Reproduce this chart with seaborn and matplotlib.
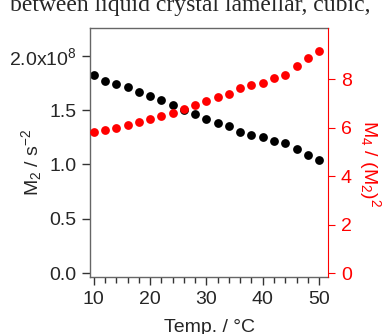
import numpy as np
import pandas as pd
import matplotlib
matplotlib.use("Agg")
import matplotlib.pyplot as plt
from matplotlib.ticker import MultipleLocator, FixedLocator
import seaborn as sns

temp = [10, 12, 14, 16, 18, 20, 22, 24, 26, 28, 30, 32, 34, 36, 38, 40, 42, 44, 46, 48, 50]
m2 = [1.82, 1.77, 1.74, 1.71, 1.67, 1.63, 1.59, 1.545, 1.50, 1.46, 1.42,
      1.38, 1.35, 1.30, 1.27, 1.25, 1.215, 1.195, 1.14, 1.09, 1.045]
ratio = [5.82, 5.92, 5.99, 6.10, 6.21, 6.34, 6.46, 6.62, 6.75, 6.91, 7.08,
         7.27, 7.38, 7.61, 7.75, 7.85, 8.05, 8.16, 8.52, 8.86, 9.16]
left_ticks = [0.0, 0.5, 1.0, 1.5, 2.0]
left_labels = ["0.0", "0.5", "1.0", "1.5", "2.0x10$^8$"]
right_ticks = [0, 2, 4, 6, 8]

df = pd.DataFrame({"temp": temp, "m2": np.array(m2) * 1e8, "ratio": ratio})

sns.set_style("ticks")
plt.rcParams["font.family"] = ["Liberation Sans", "DejaVu Sans"]
plt.rcParams["mathtext.default"] = "regular"

fig = plt.figure(figsize=(3.82, 3.34), dpi=100)
ax = fig.add_axes([0.235, 0.171, 0.6246, 0.745])
ax2 = ax.twinx()

sns.scatterplot(data=df, x="temp", y="m2", ax=ax, color="black", s=40,
                linewidth=0, zorder=2)
sns.scatterplot(data=df, x="temp", y="ratio", ax=ax2, color="#ff0000", s=40,
                linewidth=0, zorder=3)

ax.set_xlim(9.29, 51.65)
ax.set_ylim(-0.034e8, 2.255e8)
ax2.set_ylim(-0.153, 10.10)

ax.xaxis.set_major_locator(MultipleLocator(10))
ax.xaxis.set_minor_locator(MultipleLocator(2))
ax.yaxis.set_major_locator(FixedLocator([v * 1e8 for v in left_ticks]))
ax.set_yticklabels(left_labels)
ax2.yaxis.set_major_locator(FixedLocator(right_ticks))

gray = "#666666"
for sp in ["left", "top", "bottom"]:
    ax.spines[sp].set_color(gray)
    ax.spines[sp].set_linewidth(1.0)
ax.spines["right"].set_visible(False)
for sp in ["left", "top", "bottom"]:
    ax2.spines[sp].set_visible(False)
ax2.spines["right"].set_color("#ff0000")
ax2.spines["right"].set_linewidth(0.8)

ax.tick_params(axis="x", which="major", labelsize=14, length=6, width=1,
               color="#333333", pad=4)
ax.tick_params(axis="y", which="major", labelsize=14, length=6, width=1,
               color="#333333", pad=3.5)
ax.tick_params(axis="x", which="minor", length=4, width=1, color="#333333")
ax2.tick_params(axis="y", which="major", labelsize=14, length=5, width=0.8,
                color="#ff0000", labelcolor="#ff0000", pad=4)

ax.set_xlabel("Temp. / °C", fontsize=14)
ax.set_ylabel("M$_2$ / s$^{-2}$", fontsize=14)
ax2.set_ylabel("M$_4$ / (M$_2$)$^2$", fontsize=14, color="#ff0000",
               rotation=-90)
for lab in [ax.xaxis.label, ax.yaxis.label, ax2.yaxis.label]:
    lab.set_va("center")
    lab.set_ha("center")
ax.xaxis.set_label_coords(0.502, -0.203)
ax.yaxis.set_label_coords(-0.246, 0.462)
ax2.yaxis.set_label_coords(1.175, 0.454)

fig.text(0.027, 1 - 10.5 / 334, "between liquid crystal lamellar, cubic,",
         family="Liberation Serif", fontsize=17, va="baseline")

fig.savefig("out.png", dpi=100)
